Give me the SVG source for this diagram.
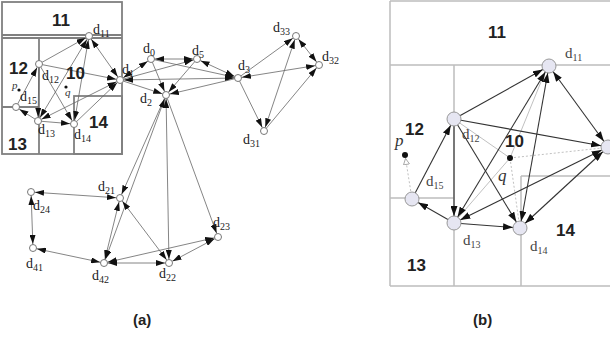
<svg xmlns="http://www.w3.org/2000/svg" width="610" height="340" viewBox="0 0 610 340">
<style>
.bg{fill:#fff}
.ra{fill:none;stroke:#808080;stroke-width:1.8}
.rb{fill:none;stroke:#bdbdbd;stroke-width:1.5}
.ea{stroke:#666;stroke-width:.8;fill:none;marker-end:url(#ha)}
.eab{stroke:#666;stroke-width:.8;fill:none;marker-end:url(#ha);marker-start:url(#ha)}
.eb{stroke:#333;stroke-width:1.1;fill:none;marker-end:url(#hb)}
.ebb{stroke:#333;stroke-width:1.1;fill:none;marker-end:url(#hb);marker-start:url(#hb)}
.g1{stroke:#b0b0b0;stroke-width:.8;fill:none}
.g2{stroke:#b0b0b0;stroke-width:.8;fill:none;stroke-dasharray:2 2}
.na{fill:#fff;stroke:#777;stroke-width:1}
.nb{fill:#e6e6f2;stroke:#999;stroke-width:1}
.dot{fill:#111}
.lb{font-family:"Liberation Serif",serif;font-size:14px;fill:#222}
.lbb{font-family:"Liberation Serif",serif;font-size:15px;fill:#444}
.sub{font-size:10px}
.rn{font-family:"Liberation Sans",Arial,sans-serif;font-weight:bold;font-size:17px;fill:#222}
.rnb{font-family:"Liberation Sans",Arial,sans-serif;font-weight:bold;font-size:17px;fill:#222}
.it{font-family:"Liberation Serif",serif;font-style:italic;font-size:15px;fill:#333}
.cap{font-family:"Liberation Sans",Arial,sans-serif;font-weight:bold;font-size:15px;fill:#222}
</style>
<defs>
<marker id="ha" markerUnits="userSpaceOnUse" markerWidth="9" markerHeight="6" viewBox="0 0 9 6" refX="13" refY="3" orient="auto-start-reverse"><path d="M0,0 L9,3 L0,6 z" fill="#111"/></marker>
<marker id="hb" markerUnits="userSpaceOnUse" markerWidth="10" markerHeight="7" viewBox="0 0 10 7" refX="17" refY="3.5" orient="auto-start-reverse"><path d="M0,0 L10,3.5 L0,7 z" fill="#111"/></marker>
<marker id="hh" markerUnits="userSpaceOnUse" markerWidth="7" markerHeight="7" viewBox="0 0 7 7" refX="10" refY="3.5" orient="auto"><path d="M0.5,0.5 L6.5,3.5 L0.5,6.5 z" fill="#fff" stroke="#999" stroke-width="0.8"/></marker>
</defs>
<rect class="bg" x="0" y="0" width="610" height="340"/>

<g id="regions-a">
<rect class="ra" x="2" y="2" width="120" height="152"/>
<line class="ra" x1="2" y1="35" x2="122" y2="35"/>
<line class="ra" x1="2" y1="38" x2="122" y2="38"/>
<line class="ra" x1="39" y1="38" x2="39" y2="154"/>
<line class="ra" x1="2" y1="107" x2="39" y2="107"/>
<rect class="ra" x="74" y="96" width="48" height="58"/>
</g>

<g id="regions-b">
<line class="rb" x1="390" y1="1" x2="610" y2="1"/>
<line class="rb" x1="390" y1="1" x2="390" y2="286"/>
<line class="rb" x1="390" y1="286" x2="610" y2="286"/>
<line class="rb" x1="390" y1="65" x2="610" y2="65"/>
<line class="rb" x1="454" y1="65" x2="454" y2="286"/>
<line class="rb" x1="390" y1="198" x2="454" y2="198"/>
<line class="rb" x1="521" y1="176" x2="521" y2="286"/>
<line class="rb" x1="521" y1="176" x2="610" y2="176"/>
</g>

<g id="connectors">
<!-- (a) -->
<line class="ea" x1="39" y1="64" x2="89" y2="36"/>
<line class="ea" x1="39" y1="64" x2="120" y2="80"/>
<line class="ea" x1="39" y1="64" x2="74" y2="124"/>
<line class="ea" x1="39" y1="64" x2="38" y2="121"/>
<line class="ea" x1="16" y1="107" x2="39" y2="64"/>
<line class="ea" x1="38" y1="121" x2="16" y2="107"/>
<line class="ea" x1="38" y1="121" x2="74" y2="124"/>
<line class="eab" x1="38" y1="121" x2="89" y2="36"/>
<line class="eab" x1="74" y1="124" x2="89" y2="36"/>
<line class="eab" x1="89" y1="36" x2="120" y2="80"/>
<line class="eab" x1="38" y1="121" x2="120" y2="80"/>
<line class="ea" x1="74" y1="124" x2="120" y2="80"/>
<line class="eab" x1="120" y1="80" x2="151" y2="59"/>
<line class="ea" x1="120" y1="80" x2="197" y2="59"/>
<line class="ea" x1="120" y1="80" x2="166" y2="95"/>
<line class="eab" x1="120" y1="80" x2="238" y2="78"/>
<line class="eab" x1="151" y1="59" x2="197" y2="59"/>
<line class="ea" x1="151" y1="59" x2="166" y2="95"/>
<line class="ea" x1="197" y1="59" x2="166" y2="95"/>
<line class="eab" x1="197" y1="59" x2="238" y2="78"/>
<line class="ea" x1="238" y1="78" x2="166" y2="95"/>
<line class="ea" x1="151" y1="59" x2="238" y2="78"/>
<line class="ea" x1="238" y1="78" x2="296" y2="36"/>
<line class="eab" x1="238" y1="78" x2="319" y2="65"/>
<line class="ea" x1="238" y1="78" x2="264" y2="131"/>
<line class="eab" x1="296" y1="36" x2="319" y2="65"/>
<line class="eab" x1="296" y1="36" x2="264" y2="131"/>
<line class="ea" x1="264" y1="131" x2="319" y2="65"/>
<line class="ea" x1="166" y1="95" x2="120" y2="198"/>
<line class="eab" x1="166" y1="95" x2="104" y2="263"/>
<line class="eab" x1="166" y1="95" x2="169" y2="263"/>
<line class="ea" x1="166" y1="95" x2="218" y2="237"/>
<line class="eab" x1="31" y1="192" x2="120" y2="198"/>
<line class="eab" x1="31" y1="192" x2="33" y2="248"/>
<line class="eab" x1="33" y1="248" x2="104" y2="263"/>
<line class="eab" x1="120" y1="198" x2="104" y2="263"/>
<line class="eab" x1="120" y1="198" x2="169" y2="263"/>
<line class="eab" x1="104" y1="263" x2="169" y2="263"/>
<line class="eab" x1="104" y1="263" x2="218" y2="237"/>
<line class="eab" x1="169" y1="263" x2="218" y2="237"/>
<!-- (b) grey -->
<line class="g1" x1="454" y1="119" x2="510" y2="158"/>
<line class="g1" x1="510" y1="158" x2="545" y2="72"/>
<line class="g2" x1="510" y1="158" x2="602" y2="148"/>
<line class="g2" x1="510" y1="158" x2="519" y2="222"/>
<line class="g1" x1="458" y1="218" x2="510" y2="158"/>
<line class="g2" x1="412" y1="199" x2="405" y2="155" style="marker-end:url(#hh)"/>
<!-- (b) -->
<line class="eb" x1="454" y1="119" x2="549" y2="66"/>
<line class="eb" x1="454" y1="119" x2="608" y2="147"/>
<line class="ebb" x1="549" y1="66" x2="608" y2="147"/>
<line class="eb" x1="454" y1="119" x2="520" y2="228"/>
<line class="eb" x1="454" y1="119" x2="454" y2="223"/>
<line class="eb" x1="412" y1="199" x2="454" y2="119"/>
<line class="eb" x1="454" y1="223" x2="412" y2="199"/>
<line class="eb" x1="454" y1="223" x2="520" y2="228"/>
<line class="ebb" x1="454" y1="223" x2="549" y2="66"/>
<line class="ebb" x1="520" y1="228" x2="549" y2="66"/>
<line class="ebb" x1="454" y1="223" x2="608" y2="147"/>
<line class="ebb" x1="520" y1="228" x2="608" y2="147"/>
</g>

<g id="labels-a">
<text class="rn" x="52" y="26">11</text>
<text class="rn" x="9" y="74">12</text>
<text class="rn" x="66" y="79">10</text>
<text class="rn" x="89" y="128">14</text>
<text class="rn" x="8" y="150">13</text>
<text class="it" x="12" y="89" style="font-size:11px">p</text>
<circle class="dot" cx="19" cy="90" r="1.6"/>
<text class="it" x="65" y="96" style="font-size:11px">q</text>
<circle class="dot" cx="66" cy="87" r="1.6"/>
</g>

<g id="a-d11"><circle class="na" cx="89" cy="36" r="3.5"/><text class="lb" x="93" y="34">d<tspan class="sub" dy="3">11</tspan></text></g>
<g id="a-d12"><circle class="na" cx="39" cy="64" r="3.5"/><text class="lb" x="42" y="80">d<tspan class="sub" dy="3">12</tspan></text></g>
<g id="a-d15"><circle class="na" cx="16" cy="107" r="3.5"/><text class="lb" x="20" y="101">d<tspan class="sub" dy="3">15</tspan></text></g>
<g id="a-d13"><circle class="na" cx="38" cy="121" r="3.5"/><text class="lb" x="38" y="134">d<tspan class="sub" dy="3">13</tspan></text></g>
<g id="a-d14"><circle class="na" cx="74" cy="124" r="3.5"/><text class="lb" x="74" y="139">d<tspan class="sub" dy="3">14</tspan></text></g>
<g id="a-d1"><circle class="na" cx="120" cy="80" r="3.5"/><text class="lb" x="122" y="74">d<tspan class="sub" dy="3">1</tspan></text></g>
<g id="a-d0"><circle class="na" cx="151" cy="59" r="3.5"/><text class="lb" x="143" y="53">d<tspan class="sub" dy="3">0</tspan></text></g>
<g id="a-d5"><circle class="na" cx="197" cy="59" r="3.5"/><text class="lb" x="192" y="55">d<tspan class="sub" dy="3">5</tspan></text></g>
<g id="a-d2"><circle class="na" cx="166" cy="95" r="3.5"/><text class="lb" x="140" y="103">d<tspan class="sub" dy="3">2</tspan></text></g>
<g id="a-d3"><circle class="na" cx="238" cy="78" r="3.5"/><text class="lb" x="238" y="70">d<tspan class="sub" dy="3">3</tspan></text></g>
<g id="a-d33"><circle class="na" cx="296" cy="36" r="3.5"/><text class="lb" x="273" y="32">d<tspan class="sub" dy="3">33</tspan></text></g>
<g id="a-d32"><circle class="na" cx="319" cy="65" r="3.5"/><text class="lb" x="322" y="61">d<tspan class="sub" dy="3">32</tspan></text></g>
<g id="a-d31"><circle class="na" cx="264" cy="131" r="3.5"/><text class="lb" x="243" y="144">d<tspan class="sub" dy="3">31</tspan></text></g>
<g id="a-d21"><circle class="na" cx="120" cy="198" r="3.5"/><text class="lb" x="98" y="191">d<tspan class="sub" dy="3">21</tspan></text></g>
<g id="a-d24"><circle class="na" cx="31" cy="192" r="3.5"/><text class="lb" x="33" y="210">d<tspan class="sub" dy="3">24</tspan></text></g>
<g id="a-d41"><circle class="na" cx="33" cy="248" r="3.5"/><text class="lb" x="26" y="268">d<tspan class="sub" dy="3">41</tspan></text></g>
<g id="a-d42"><circle class="na" cx="104" cy="263" r="3.5"/><text class="lb" x="92" y="280">d<tspan class="sub" dy="3">42</tspan></text></g>
<g id="a-d22"><circle class="na" cx="169" cy="263" r="3.5"/><text class="lb" x="159" y="278">d<tspan class="sub" dy="3">22</tspan></text></g>
<g id="a-d23"><circle class="na" cx="218" cy="237" r="3.5"/><text class="lb" x="213" y="227">d<tspan class="sub" dy="3">23</tspan></text></g>

<g id="labels-b">
<text class="rnb" x="488" y="38">11</text>
<text class="rnb" x="405" y="135">12</text>
<text class="rnb" x="505" y="147">10</text>
<text class="rnb" x="556" y="236">14</text>
<text class="rnb" x="407" y="271">13</text>
<text class="it" x="395" y="146" style="font-size:17px">p</text>
<circle class="dot" cx="405" cy="155" r="3"/>
<text class="it" x="498" y="181" style="font-size:17px">q</text>
<circle class="dot" cx="510" cy="158" r="3"/>
</g>

<g id="b-d11"><circle class="nb" cx="549" cy="66" r="7"/><text class="lbb" x="565" y="58">d<tspan class="sub" dy="3">11</tspan></text></g>
<g id="b-d12"><circle class="nb" cx="454" cy="119" r="7"/><text class="lbb" x="462" y="139">d<tspan class="sub" dy="3">12</tspan></text></g>
<g id="b-d1"><circle class="nb" cx="608" cy="147" r="7"/></g>
<g id="b-d15"><circle class="nb" cx="412" cy="199" r="7"/><text class="lbb" x="426" y="186">d<tspan class="sub" dy="3">15</tspan></text></g>
<g id="b-d13"><circle class="nb" cx="454" cy="223" r="7"/><text class="lbb" x="463" y="245">d<tspan class="sub" dy="3">13</tspan></text></g>
<g id="b-d14"><circle class="nb" cx="520" cy="228" r="7"/><text class="lbb" x="530" y="251">d<tspan class="sub" dy="3">14</tspan></text></g>

<g id="captions">
<text class="cap" x="133" y="325">(a)</text>
<text class="cap" x="473" y="325">(b)</text>
</g>
</svg>
